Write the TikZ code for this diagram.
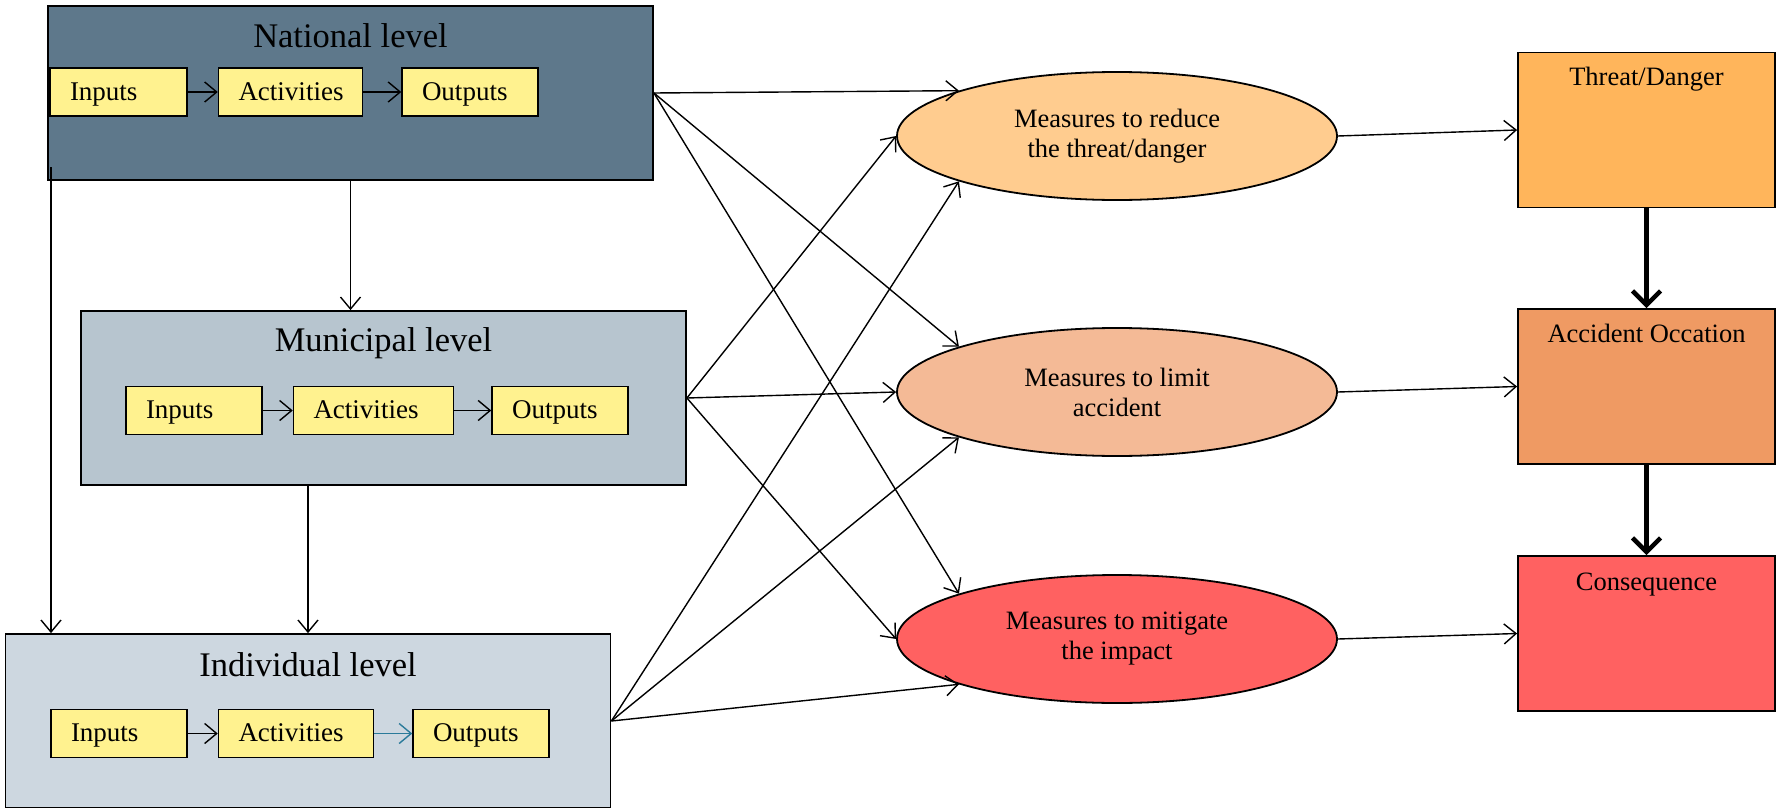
\documentclass[tikz,border=0pt]{standalone}
\usepackage{fontspec}
\setmainfont{Liberation Serif}
\usepackage{tikz}
\usetikzlibrary{positioning}
\usetikzlibrary{arrows.meta}
\usetikzlibrary{shapes}
\definecolor{natblue}{HTML}{5E788B}
\definecolor{munblue}{HTML}{B7C5CF}
\definecolor{indblue}{HTML}{CDD7E0}
\definecolor{boxyellow}{HTML}{FFF28F}
\definecolor{peach}{HTML}{FFCC8F}
\definecolor{salmon}{HTML}{F4BA96}
\definecolor{redish}{HTML}{FF6161}
\definecolor{orangebox}{HTML}{FFB55B}
\definecolor{darkorange}{HTML}{EF9A63}
\definecolor{tealarrow}{HTML}{2A7A9A}
\tikzset{level node/.style={rectangle,draw,line width=1.8pt,minimum width=605pt,minimum height=174pt,inner sep=0pt},
  level title/.style={font=\fontsize{34.5}{40}\selectfont,anchor=center},
  item node/.style={rectangle,draw,fill=boxyellow,line width=1.5pt,minimum height=48pt,inner xsep=20pt,inner ysep=0pt,text width=#1,text height=20pt,text depth=4pt,align=left,font=\fontsize{27}{30}\selectfont},
  measure node/.style={ellipse,draw,line width=1.8pt,minimum width=440pt,minimum height=128pt,inner sep=0pt,align=center,font=\fontsize{26.5}{30}\selectfont},
  result node/.style={rectangle,draw,line width=1.8pt,minimum width=257pt,minimum height=155pt,inner sep=0pt},
  result title/.style={font=\fontsize{26.5}{30}\selectfont,anchor=center},}

\begin{document}
\begin{tikzpicture}[x=1pt,y=-1pt,->,>={Straight Barb[length=12pt,width=20pt]},line width=1.4pt]
    \useasboundingbox (0,0) rectangle (1783,808);

    % levels
    \node[level node,fill=natblue,label={[level title,yshift=-31pt]north:National level}] (nat) at (350.5,93) {};
    \node[level node,fill=munblue,label={[level title,yshift=-33pt]north:Municipal level}] (mun) at (383.5,398) {};
    \node[level node,fill=indblue,label={[level title,yshift=-32pt]north:Individual level}] (ind) at (308,721) {};

    \node[item node=97pt] (nin) at (118.5,92) {Inputs};
    \node[item node=104pt] (nact) [right=30pt of nin] {Activities};
    \node[item node=96pt] (nout) [right=38pt of nact] {Outputs};

    \node[item node=96pt] (min) at (194,410.5) {Inputs};
    \node[item node=120pt] (mact) [right=30pt of min] {Activities};
    \node[item node=96pt] (mout) [right=37pt of mact] {Outputs};

    \node[item node=96pt] (iin) at (119,733.5) {Inputs};
    \node[item node=115pt] (iact) [right=30pt of iin] {Activities};
    \node[item node=96pt] (iout) [right=38pt of iact] {Outputs};

    % measures
    \node[measure node,fill=peach] (red) at (1117,136) {Measures to reduce\\the threat/danger};
    \node[measure node,fill=salmon] (lim) at (1117,392) {Measures to limit\\accident};
    \node[measure node,fill=redish] (mit) at (1117,639) {Measures to mitigate\\the impact};

    % results
    \node[result node,fill=orangebox,label={[result title,yshift=-28pt]north:Threat/Danger}] (thr) at (1646.5,130) {};
    \node[result node,fill=darkorange,label={[result title,yshift=-25pt]north:Accident Occation}] (acc) at (1646.5,386.5) {};
    \node[result node,fill=redish,label={[result title,yshift=-29pt]north:Consequence}] (con) at (1646.5,633.5) {};

    \coordinate (natfoot) at (51,167);

    \path
    (nin) edge (nact)
    (nact) edge (nout)
    (min) edge (mact)
    (mact) edge (mout)
    (iin) edge (iact)
    (iact) edge [tealarrow] (iout)
    (natfoot) edge (natfoot |- ind.north)
    (nat.south) edge (nat.south |- mun.north)
    (ind.north |- mun.south) edge (ind.north)
    (nat.east) edge (red.164)
    (nat.east) edge (lim.164)
    (nat.east) edge (mit.164)
    (mun.east) edge (red.west)
    (mun.east) edge (lim.west)
    (mun.east) edge (mit.west)
    (ind.east) edge (red.196)
    (ind.east) edge (lim.196)
    (ind.east) edge (mit.196)
    (red.east) edge (thr.west)
    (lim.east) edge (acc.west)
    (mit.east) edge (con.west);

    \path[line width=4.5pt,-{Straight Barb[length=14pt,width=28pt]}]
    (thr) edge (acc)
    (acc) edge (con);
\end{tikzpicture}
\end{document}
